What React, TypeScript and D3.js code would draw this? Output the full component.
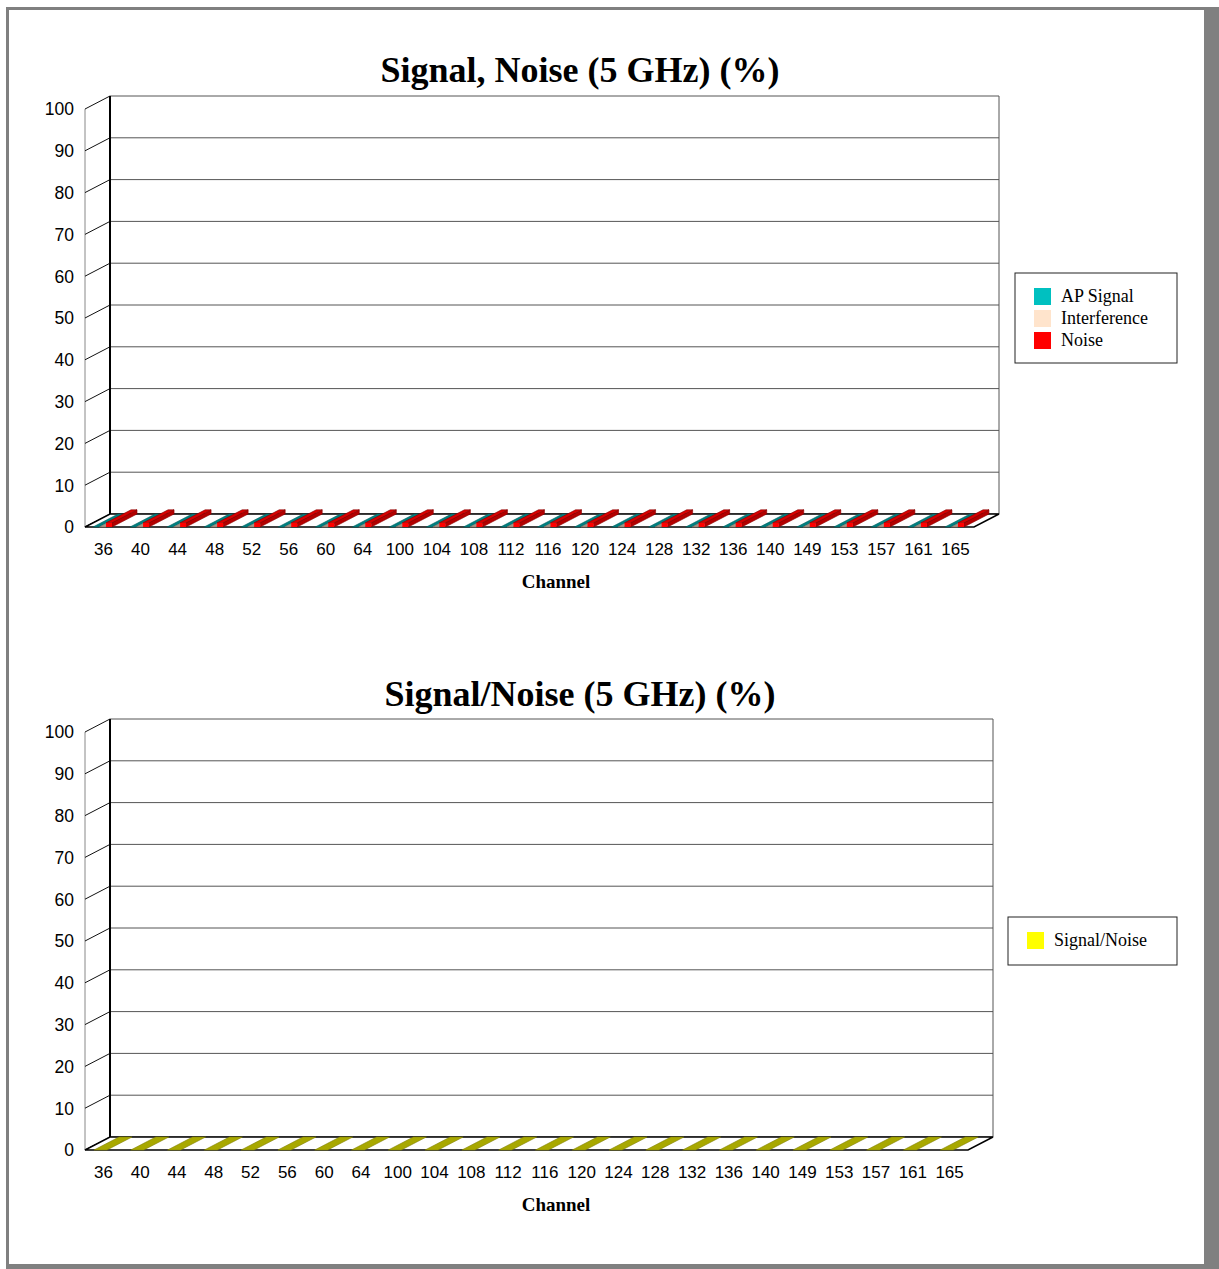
import React from 'react';
import * as d3 from 'd3';

// channel list and values (all bars sit at / near zero)
const CHANNELS = ['36', '40', '44', '48', '52', '56', '60', '64', '100', '104', '108', '112', '116', '120', '124', '128', '132', '136', '140', '149', '153', '157', '161', '165'];
const AP_SIGNAL = [0, 0, 0, 0, 0, 0, 0, 0, 0, 0, 0, 0, 0, 0, 0, 0, 0, 0, 0, 0, 0, 0, 0, 0];
const INTERFERENCE = [0, 0, 0, 0, 0, 0, 0, 0, 0, 0, 0, 0, 0, 0, 0, 0, 0, 0, 0, 0, 0, 0, 0, 0];
const NOISE = [1, 1, 1, 1, 1, 1, 1, 1, 1, 1, 1, 1, 1, 1, 1, 1, 1, 1, 1, 1, 1, 1, 1, 1];
const SIGNAL_NOISE = [0, 0, 0, 0, 0, 0, 0, 0, 0, 0, 0, 0, 0, 0, 0, 0, 0, 0, 0, 0, 0, 0, 0, 0];
const Y_TICKS = [0, 10, 20, 30, 40, 50, 60, 70, 80, 90, 100];

const SANS = '"Liberation Sans", Arial, sans-serif';
const SERIF = '"Liberation Serif", "Times New Roman", serif';

const DX = 25;
const DY = -13;

interface Series {
  name: string;
  color: string;
  values: number[];
}

interface ChartProps {
  title: string;
  titleY: number;
  zeroY: number; // front plane, value 0
  frontLeft: number;
  frontRight: number;
  cluster: [number, number]; // offsets inside a channel band
  series: Series[];
  legend: { x: number; y: number; w: number; h: number };
}

const shade = (c: string, k: number) => {
  const rgb = d3.rgb(c);
  return d3.rgb(rgb.r * k, rgb.g * k, rgb.b * k).formatHex();
};

function Chart3D({ title, titleY, zeroY, frontLeft, frontRight, cluster, series, legend }: ChartProps) {
  const y = d3.scaleLinear().domain([0, 100]).range([zeroY, zeroY - 418]);
  const x = d3.scaleBand<string>().domain(CHANNELS).range([frontLeft, frontRight]);
  const inner = d3
    .scaleBand<string>()
    .domain(series.map((s) => s.name))
    .range(cluster)
    .paddingInner(series.length > 1 ? 0.08 : 0);
  const bw = inner.bandwidth();
  const backLeft = frontLeft + DX;
  const backRight = frontRight + DX;

  const bars: React.ReactNode[] = [];
  CHANNELS.forEach((ch, i) => {
    series.forEach((s) => {
      const x0 = (x(ch) ?? 0) + (inner(s.name) ?? 0);
      const x1 = x0 + bw;
      const yv = y(s.values[i]);
      const y0 = y(0);
      const top = `M${x0},${yv}L${x1},${yv}L${x1 + DX},${yv + DY}L${x0 + DX},${yv + DY}Z`;
      const side = `M${x1},${yv}L${x1 + DX},${yv + DY}L${x1 + DX},${y0 + DY}L${x1},${y0}Z`;
      bars.push(
        <g key={`${ch}-${s.name}`}>
          {yv < y0 && <path d={side} fill={shade(s.color, 0.7)} stroke={shade(s.color, 0.55)} strokeWidth={0.6} />}
          <path d={top} fill={shade(s.color, yv < y0 ? 0.85 : 0.66)} stroke={shade(s.color, 0.5)} strokeWidth={0.6} />
          {yv < y0 && <rect x={x0} y={yv} width={bw} height={y0 - yv} fill={s.color} />}
        </g>
      );
    });
  });

  return (
    <g>
      <text x={580} y={titleY} textAnchor="middle" fontFamily={SERIF} fontWeight="bold" fontSize={36}>
        {title}
      </text>

      {/* back wall grid */}
      {Y_TICKS.map((t) => (
        <line key={`g${t}`} x1={backLeft} x2={backRight} y1={y(t) + DY} y2={y(t) + DY} stroke="#555" strokeWidth={1} />
      ))}
      <line x1={backRight} x2={backRight} y1={y(100) + DY} y2={y(0) + DY} stroke="#555" />

      {/* front axis with slanted ticks */}
      <line x1={frontLeft} x2={frontLeft} y1={y(100)} y2={y(0)} stroke="#888" />
      {Y_TICKS.map((t) => (
        <g key={`t${t}`}>
          <line x1={frontLeft} y1={y(t)} x2={backLeft} y2={y(t) + DY} stroke="#111" strokeWidth={1} />
          <text x={74} y={y(t)} dy="0.36em" textAnchor="end" fontFamily={SANS} fontSize={17.5}>
            {t}
          </text>
        </g>
      ))}
      <line x1={backLeft} x2={backLeft} y1={y(100) + DY} y2={y(0) + DY} stroke="#000" strokeWidth={2} />

      {/* floor */}
      <path
        d={`M${frontLeft},${y(0)}L${backLeft},${y(0) + DY}L${backRight},${y(0) + DY}L${frontRight},${y(0)}Z`}
        fill="#fff"
        stroke="#000"
        strokeWidth={1.5}
      />

      {bars}

      {CHANNELS.map((ch) => (
        <text
          key={`c${ch}`}
          x={(x(ch) ?? 0) + x.bandwidth() / 2}
          y={zeroY + 28}
          textAnchor="middle"
          fontFamily={SANS}
          fontSize={17}
        >
          {ch}
        </text>
      ))}
      <text x={556} y={zeroY + 61} textAnchor="middle" fontFamily={SERIF} fontWeight="bold" fontSize={19}>
        Channel
      </text>

      {/* legend */}
      <rect x={legend.x} y={legend.y} width={legend.w} height={legend.h} fill="#fff" stroke="#222" strokeWidth={1} />
      {series.map((s, i) => (
        <g key={`l${s.name}`}>
          <rect x={legend.x + 19} y={legend.y + 15 + i * 22} width={17} height={17} fill={s.color} />
          <text x={legend.x + 46} y={legend.y + 29 + i * 22} fontFamily={SERIF} fontSize={18}>
            {s.name}
          </text>
        </g>
      ))}
    </g>
  );
}

export default function App() {
  return (
    <svg width={1219} height={1269} style={{ position: 'absolute', left: 0, top: 0 }}>
      <rect x={6} y={7} width={1213} height={1262} fill="#808080" />
      <rect x={9} y={10} width={1195} height={1254} fill="#fff" />
      <Chart3D
        title="Signal, Noise (5 GHz) (%)"
        titleY={82}
        zeroY={527}
        frontLeft={85}
        frontRight={974}
        cluster={[8, 27]}
        series={[
          { name: 'AP Signal', color: '#00C0C0', values: AP_SIGNAL },
          { name: 'Interference', color: '#FFE4CC', values: INTERFERENCE },
          { name: 'Noise', color: '#FF0000', values: NOISE },
        ]}
        legend={{ x: 1015, y: 273, w: 162, h: 90 }}
      />
      <Chart3D
        title="Signal/Noise (5 GHz) (%)"
        titleY={706}
        zeroY={1150}
        frontLeft={85}
        frontRight={968}
        cluster={[9, 22]}
        series={[{ name: 'Signal/Noise', color: '#FFFF00', values: SIGNAL_NOISE }]}
        legend={{ x: 1008, y: 917, w: 169, h: 48 }}
      />
    </svg>
  );
}
